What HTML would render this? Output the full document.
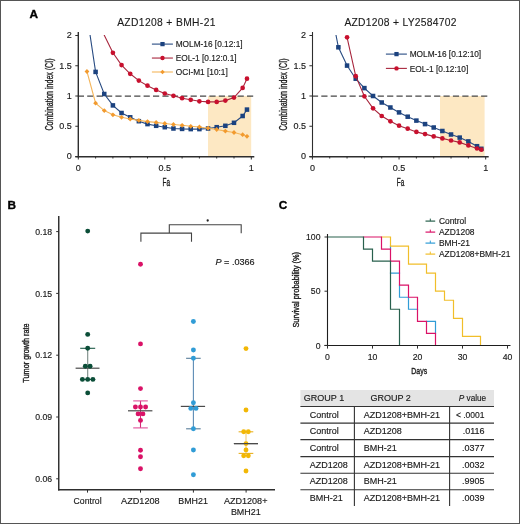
<!DOCTYPE html>
<html><head><meta charset="utf-8"><style>
html,body{margin:0;padding:0;background:#fff;}
body{width:520px;height:524px;overflow:hidden;}
svg{display:block;will-change:transform;}
text{font-family:"Liberation Sans", sans-serif;fill:#333333;}
.tk{font-size:9px;fill:#1a1a1a;stroke:#1a1a1a;stroke-width:0.15px}
.tk2{font-size:8.7px;fill:#1a1a1a;stroke:#1a1a1a;stroke-width:0.15px}
.cl{font-size:10px;fill:#1a1a1a;stroke:#1a1a1a;stroke-width:0.35px}
.ti{font-size:10.3px;fill:#1a1a1a;stroke:#1a1a1a;stroke-width:0.12px}
.lg{font-size:8.3px;fill:#1a1a1a;stroke:#1a1a1a;stroke-width:0.15px}
.lg2{font-size:8.45px;fill:#1a1a1a;stroke:#1a1a1a;stroke-width:0.15px}
.pv{font-size:8.6px;fill:#1a1a1a;stroke:#1a1a1a;stroke-width:0.15px}
.tb{font-size:9px;fill:#1a1a1a;stroke:#1a1a1a;stroke-width:0.15px}
.pl{font-size:11.8px;font-weight:bold;fill:#000;stroke:#000;stroke-width:0.35px}
</style></head><body>
<svg width="520" height="524" viewBox="0 0 520 524">
<rect x="0.5" y="0.5" width="519" height="523" fill="#fff" stroke="#555" stroke-width="1"/>
<text x="29.5" y="18.2" class="pl">A</text>
<text x="7.5" y="209.2" class="pl">B</text>
<text x="278.8" y="209.4" class="pl">C</text>
<rect x="208" y="96" width="43.2" height="60.5" fill="#fde8c3"/>
<line x1="77.8" y1="96" x2="253.8" y2="96" stroke="#474747" stroke-width="1.25" stroke-dasharray="6.2,3.2"/>
<clipPath id="c78"><rect x="78.3" y="35" width="200" height="130"/></clipPath>
<path d="M101.7,30 L112.9,52.8 L121.55,65.1 L130.2,73.8 L138.85,80.6 L147.5,85.7 L156.15,89.9 L164.8,93.5 L173.45,95.8 L182.1,98.2 L190.75,99.8 L199.4,101.3 L208.05,101.9 L216.7,101.9 L225.35,100.6 L234,97.6 L242.65,87.9 L246.98,78.7" fill="none" stroke="#a8263d" stroke-width="1.1" clip-path="url(#c78)"/>
<circle cx="112.9" cy="52.8" r="2.34" fill="#c8102e"/>
<circle cx="121.55" cy="65.1" r="2.34" fill="#c8102e"/>
<circle cx="130.2" cy="73.8" r="2.34" fill="#c8102e"/>
<circle cx="138.85" cy="80.6" r="2.34" fill="#c8102e"/>
<circle cx="147.5" cy="85.7" r="2.34" fill="#c8102e"/>
<circle cx="156.15" cy="89.9" r="2.34" fill="#c8102e"/>
<circle cx="164.8" cy="93.5" r="2.34" fill="#c8102e"/>
<circle cx="173.45" cy="95.8" r="2.34" fill="#c8102e"/>
<circle cx="182.1" cy="98.2" r="2.34" fill="#c8102e"/>
<circle cx="190.75" cy="99.8" r="2.34" fill="#c8102e"/>
<circle cx="199.4" cy="101.3" r="2.34" fill="#c8102e"/>
<circle cx="208.05" cy="101.9" r="2.34" fill="#c8102e"/>
<circle cx="216.7" cy="101.9" r="2.34" fill="#c8102e"/>
<circle cx="225.35" cy="100.6" r="2.34" fill="#c8102e"/>
<circle cx="234" cy="97.6" r="2.34" fill="#c8102e"/>
<circle cx="242.65" cy="87.9" r="2.34" fill="#c8102e"/>
<circle cx="246.98" cy="78.7" r="2.34" fill="#c8102e"/>
<path d="M89.3,30 L95.6,71.9 L104.25,94 L112.9,105.4 L121.55,113 L130.2,117.3 L138.85,121.2 L147.5,124.1 L156.15,125.8 L164.8,127.2 L173.45,128.5 L182.1,128.9 L190.75,129.1 L199.4,129.1 L208.05,128.5 L216.7,127.2 L225.35,125.8 L234,122.8 L242.65,116 L246.98,109.6" fill="none" stroke="#284b82" stroke-width="1.1" clip-path="url(#c78)"/>
<rect x="93.34" y="69.64" width="4.52" height="4.52" fill="#1b427f"/>
<rect x="101.99" y="91.74" width="4.52" height="4.52" fill="#1b427f"/>
<rect x="110.64" y="103.14" width="4.52" height="4.52" fill="#1b427f"/>
<rect x="119.29" y="110.74" width="4.52" height="4.52" fill="#1b427f"/>
<rect x="127.94" y="115.04" width="4.52" height="4.52" fill="#1b427f"/>
<rect x="136.59" y="118.94" width="4.52" height="4.52" fill="#1b427f"/>
<rect x="145.24" y="121.84" width="4.52" height="4.52" fill="#1b427f"/>
<rect x="153.89" y="123.54" width="4.52" height="4.52" fill="#1b427f"/>
<rect x="162.54" y="124.94" width="4.52" height="4.52" fill="#1b427f"/>
<rect x="171.19" y="126.24" width="4.52" height="4.52" fill="#1b427f"/>
<rect x="179.84" y="126.64" width="4.52" height="4.52" fill="#1b427f"/>
<rect x="188.49" y="126.84" width="4.52" height="4.52" fill="#1b427f"/>
<rect x="197.14" y="126.84" width="4.52" height="4.52" fill="#1b427f"/>
<rect x="205.79" y="126.24" width="4.52" height="4.52" fill="#1b427f"/>
<rect x="214.44" y="124.94" width="4.52" height="4.52" fill="#1b427f"/>
<rect x="223.09" y="123.54" width="4.52" height="4.52" fill="#1b427f"/>
<rect x="231.74" y="120.54" width="4.52" height="4.52" fill="#1b427f"/>
<rect x="240.39" y="113.74" width="4.52" height="4.52" fill="#1b427f"/>
<rect x="244.71" y="107.34" width="4.52" height="4.52" fill="#1b427f"/>
<path d="M86.95,71.5 L95.6,103.2 L104.25,110.6 L112.9,114.8 L121.55,117.3 L130.2,119 L138.85,120.4 L147.5,121.6 L156.15,122.4 L164.8,123.5 L173.45,124.5 L182.1,125.3 L190.75,126.3 L199.4,127 L208.05,128.2 L216.7,129.5 L225.35,131.1 L234,132.5 L242.65,134.7 L246.98,136.3" fill="none" stroke="#f4b65c" stroke-width="1.1" clip-path="url(#c78)"/>
<path d="M86.95,69.11 L89.34,71.5 L86.95,73.89 L84.56,71.5 Z" fill="#f29a2e"/>
<path d="M95.6,100.81 L97.99,103.2 L95.6,105.59 L93.21,103.2 Z" fill="#f29a2e"/>
<path d="M104.25,108.21 L106.64,110.6 L104.25,112.99 L101.86,110.6 Z" fill="#f29a2e"/>
<path d="M112.9,112.41 L115.29,114.8 L112.9,117.19 L110.51,114.8 Z" fill="#f29a2e"/>
<path d="M121.55,114.91 L123.94,117.3 L121.55,119.69 L119.16,117.3 Z" fill="#f29a2e"/>
<path d="M130.2,116.61 L132.59,119 L130.2,121.39 L127.81,119 Z" fill="#f29a2e"/>
<path d="M138.85,118.01 L141.24,120.4 L138.85,122.79 L136.46,120.4 Z" fill="#f29a2e"/>
<path d="M147.5,119.21 L149.89,121.6 L147.5,123.99 L145.11,121.6 Z" fill="#f29a2e"/>
<path d="M156.15,120.01 L158.54,122.4 L156.15,124.79 L153.76,122.4 Z" fill="#f29a2e"/>
<path d="M164.8,121.11 L167.19,123.5 L164.8,125.89 L162.41,123.5 Z" fill="#f29a2e"/>
<path d="M173.45,122.11 L175.84,124.5 L173.45,126.89 L171.06,124.5 Z" fill="#f29a2e"/>
<path d="M182.1,122.91 L184.49,125.3 L182.1,127.69 L179.71,125.3 Z" fill="#f29a2e"/>
<path d="M190.75,123.91 L193.14,126.3 L190.75,128.69 L188.36,126.3 Z" fill="#f29a2e"/>
<path d="M199.4,124.61 L201.79,127 L199.4,129.39 L197.01,127 Z" fill="#f29a2e"/>
<path d="M208.05,125.81 L210.44,128.2 L208.05,130.59 L205.66,128.2 Z" fill="#f29a2e"/>
<path d="M216.7,127.11 L219.09,129.5 L216.7,131.89 L214.31,129.5 Z" fill="#f29a2e"/>
<path d="M225.35,128.71 L227.74,131.1 L225.35,133.49 L222.96,131.1 Z" fill="#f29a2e"/>
<path d="M234,130.11 L236.39,132.5 L234,134.89 L231.61,132.5 Z" fill="#f29a2e"/>
<path d="M242.65,132.31 L245.04,134.7 L242.65,137.09 L240.26,134.7 Z" fill="#f29a2e"/>
<path d="M246.98,133.91 L249.37,136.3 L246.98,138.69 L244.58,136.3 Z" fill="#f29a2e"/>
<line x1="78.3" y1="32" x2="78.3" y2="157.4" stroke="#2e2e2e" stroke-width="1.4"/>
<line x1="75.3" y1="156.7" x2="254.3" y2="156.7" stroke="#2e2e2e" stroke-width="1.4"/>
<line x1="75.3" y1="35.5" x2="78.3" y2="35.5" stroke="#2e2e2e" stroke-width="1"/>
<text x="71.8" y="38.3" text-anchor="end" class="tk">2</text>
<line x1="75.3" y1="65.75" x2="78.3" y2="65.75" stroke="#2e2e2e" stroke-width="1"/>
<text x="71.8" y="68.55" text-anchor="end" class="tk">1.5</text>
<line x1="75.3" y1="96" x2="78.3" y2="96" stroke="#2e2e2e" stroke-width="1"/>
<text x="71.8" y="98.8" text-anchor="end" class="tk">1</text>
<line x1="75.3" y1="126.25" x2="78.3" y2="126.25" stroke="#2e2e2e" stroke-width="1"/>
<text x="71.8" y="129.05" text-anchor="end" class="tk">0.5</text>
<line x1="75.3" y1="156.5" x2="78.3" y2="156.5" stroke="#2e2e2e" stroke-width="1"/>
<text x="71.8" y="159.3" text-anchor="end" class="tk">0</text>
<line x1="78.3" y1="156.5" x2="78.3" y2="159.5" stroke="#2e2e2e" stroke-width="1"/>
<line x1="95.6" y1="156.5" x2="95.6" y2="158.5" stroke="#2e2e2e" stroke-width="1"/>
<line x1="112.9" y1="156.5" x2="112.9" y2="158.5" stroke="#2e2e2e" stroke-width="1"/>
<line x1="130.2" y1="156.5" x2="130.2" y2="158.5" stroke="#2e2e2e" stroke-width="1"/>
<line x1="147.5" y1="156.5" x2="147.5" y2="158.5" stroke="#2e2e2e" stroke-width="1"/>
<line x1="164.8" y1="156.5" x2="164.8" y2="159.5" stroke="#2e2e2e" stroke-width="1"/>
<line x1="182.1" y1="156.5" x2="182.1" y2="158.5" stroke="#2e2e2e" stroke-width="1"/>
<line x1="199.4" y1="156.5" x2="199.4" y2="158.5" stroke="#2e2e2e" stroke-width="1"/>
<line x1="216.7" y1="156.5" x2="216.7" y2="158.5" stroke="#2e2e2e" stroke-width="1"/>
<line x1="234" y1="156.5" x2="234" y2="158.5" stroke="#2e2e2e" stroke-width="1"/>
<line x1="251.3" y1="156.5" x2="251.3" y2="159.5" stroke="#2e2e2e" stroke-width="1"/>
<text x="78.3" y="171" text-anchor="middle" class="tk">0</text>
<text x="164.8" y="171" text-anchor="middle" class="tk">0.5</text>
<text x="251.3" y="171" text-anchor="middle" class="tk">1</text>
<text x="166.3" y="185.5" text-anchor="middle" class="cl" textLength="7.5" lengthAdjust="spacingAndGlyphs">Fa</text>
<text transform="translate(53.3,94.5) rotate(-90)" text-anchor="middle" class="cl" textLength="72" lengthAdjust="spacingAndGlyphs">Combination index (CI)</text>
<text x="166.3" y="26" text-anchor="middle" class="ti" textLength="98.3" lengthAdjust="spacing">AZD1208 + BMH-21</text>
<line x1="151.9" y1="44.1" x2="172.9" y2="44.1" stroke="#284b82" stroke-width="1.1"/>
<rect x="160.37" y="41.97" width="4.26" height="4.26" fill="#1b427f"/>
<text x="175.7" y="47.3" class="lg">MOLM-16 [0.12:1]</text>
<line x1="151.9" y1="58.05" x2="172.9" y2="58.05" stroke="#a8263d" stroke-width="1.1"/>
<circle cx="162.5" cy="58.05" r="2.21" fill="#c8102e"/>
<text x="175.7" y="61.25" class="lg">EOL-1 [0.12:0.1]</text>
<line x1="151.9" y1="72" x2="172.9" y2="72" stroke="#f4b65c" stroke-width="1.1"/>
<path d="M162.5,69.75 L164.75,72 L162.5,74.25 L160.25,72 Z" fill="#f29a2e"/>
<text x="175.7" y="75.2" class="lg">OCI-M1 [10:1]</text>
<rect x="440" y="96" width="44.6" height="60.5" fill="#fde8c3"/>
<line x1="311.9" y1="96" x2="488.2" y2="96" stroke="#474747" stroke-width="1.25" stroke-dasharray="6.2,3.2"/>
<clipPath id="c312"><rect x="312.4" y="35" width="200" height="130"/></clipPath>
<path d="M335,30 L338.39,47.3 L347.06,65.6 L355.72,78.7 L364.39,88.1 L373.05,96 L381.72,102.5 L390.38,107.5 L399.05,112.4 L407.71,116.7 L416.38,120.6 L425.04,124.1 L433.71,127.5 L442.38,131 L451.04,134.5 L459.7,137.6 L468.37,141.4 L477.03,146.2 L481.37,148.8" fill="none" stroke="#284b82" stroke-width="1.1" clip-path="url(#c312)"/>
<rect x="336.13" y="45.04" width="4.52" height="4.52" fill="#1b427f"/>
<rect x="344.8" y="63.34" width="4.52" height="4.52" fill="#1b427f"/>
<rect x="353.46" y="76.44" width="4.52" height="4.52" fill="#1b427f"/>
<rect x="362.13" y="85.84" width="4.52" height="4.52" fill="#1b427f"/>
<rect x="370.79" y="93.74" width="4.52" height="4.52" fill="#1b427f"/>
<rect x="379.46" y="100.24" width="4.52" height="4.52" fill="#1b427f"/>
<rect x="388.12" y="105.24" width="4.52" height="4.52" fill="#1b427f"/>
<rect x="396.79" y="110.14" width="4.52" height="4.52" fill="#1b427f"/>
<rect x="405.45" y="114.44" width="4.52" height="4.52" fill="#1b427f"/>
<rect x="414.12" y="118.34" width="4.52" height="4.52" fill="#1b427f"/>
<rect x="422.78" y="121.84" width="4.52" height="4.52" fill="#1b427f"/>
<rect x="431.45" y="125.24" width="4.52" height="4.52" fill="#1b427f"/>
<rect x="440.11" y="128.74" width="4.52" height="4.52" fill="#1b427f"/>
<rect x="448.78" y="132.24" width="4.52" height="4.52" fill="#1b427f"/>
<rect x="457.44" y="135.34" width="4.52" height="4.52" fill="#1b427f"/>
<rect x="466.11" y="139.14" width="4.52" height="4.52" fill="#1b427f"/>
<rect x="474.77" y="143.94" width="4.52" height="4.52" fill="#1b427f"/>
<rect x="479.11" y="146.54" width="4.52" height="4.52" fill="#1b427f"/>
<path d="M347.06,37.3 L355.72,76.2 L364.39,96.3 L373.05,108.3 L381.72,116 L390.38,121.3 L399.05,125.7 L407.71,128.7 L416.38,131.9 L425.04,134.1 L433.71,136.4 L442.38,138.4 L451.04,140.5 L459.7,142.4 L468.37,145.4 L477.03,148.5 L481.37,149.7" fill="none" stroke="#a8263d" stroke-width="1.1" clip-path="url(#c312)"/>
<circle cx="347.06" cy="37.3" r="2.34" fill="#c8102e"/>
<circle cx="355.72" cy="76.2" r="2.34" fill="#c8102e"/>
<circle cx="364.39" cy="96.3" r="2.34" fill="#c8102e"/>
<circle cx="373.05" cy="108.3" r="2.34" fill="#c8102e"/>
<circle cx="381.72" cy="116" r="2.34" fill="#c8102e"/>
<circle cx="390.38" cy="121.3" r="2.34" fill="#c8102e"/>
<circle cx="399.05" cy="125.7" r="2.34" fill="#c8102e"/>
<circle cx="407.71" cy="128.7" r="2.34" fill="#c8102e"/>
<circle cx="416.38" cy="131.9" r="2.34" fill="#c8102e"/>
<circle cx="425.04" cy="134.1" r="2.34" fill="#c8102e"/>
<circle cx="433.71" cy="136.4" r="2.34" fill="#c8102e"/>
<circle cx="442.38" cy="138.4" r="2.34" fill="#c8102e"/>
<circle cx="451.04" cy="140.5" r="2.34" fill="#c8102e"/>
<circle cx="459.7" cy="142.4" r="2.34" fill="#c8102e"/>
<circle cx="468.37" cy="145.4" r="2.34" fill="#c8102e"/>
<circle cx="477.03" cy="148.5" r="2.34" fill="#c8102e"/>
<circle cx="481.37" cy="149.7" r="2.34" fill="#c8102e"/>
<line x1="312.5" y1="32" x2="312.5" y2="157.4" stroke="#2e2e2e" stroke-width="1.1"/>
<line x1="309.4" y1="156.7" x2="488.7" y2="156.7" stroke="#2e2e2e" stroke-width="1.4"/>
<line x1="309.4" y1="35.5" x2="312.4" y2="35.5" stroke="#2e2e2e" stroke-width="1"/>
<text x="305.9" y="38.3" text-anchor="end" class="tk">2</text>
<line x1="309.4" y1="65.75" x2="312.4" y2="65.75" stroke="#2e2e2e" stroke-width="1"/>
<text x="305.9" y="68.55" text-anchor="end" class="tk">1.5</text>
<line x1="309.4" y1="96" x2="312.4" y2="96" stroke="#2e2e2e" stroke-width="1"/>
<text x="305.9" y="98.8" text-anchor="end" class="tk">1</text>
<line x1="309.4" y1="126.25" x2="312.4" y2="126.25" stroke="#2e2e2e" stroke-width="1"/>
<text x="305.9" y="129.05" text-anchor="end" class="tk">0.5</text>
<line x1="309.4" y1="156.5" x2="312.4" y2="156.5" stroke="#2e2e2e" stroke-width="1"/>
<text x="305.9" y="159.3" text-anchor="end" class="tk">0</text>
<line x1="312.4" y1="156.5" x2="312.4" y2="159.5" stroke="#2e2e2e" stroke-width="1"/>
<line x1="329.73" y1="156.5" x2="329.73" y2="158.5" stroke="#2e2e2e" stroke-width="1"/>
<line x1="347.06" y1="156.5" x2="347.06" y2="158.5" stroke="#2e2e2e" stroke-width="1"/>
<line x1="364.39" y1="156.5" x2="364.39" y2="158.5" stroke="#2e2e2e" stroke-width="1"/>
<line x1="381.72" y1="156.5" x2="381.72" y2="158.5" stroke="#2e2e2e" stroke-width="1"/>
<line x1="399.05" y1="156.5" x2="399.05" y2="159.5" stroke="#2e2e2e" stroke-width="1"/>
<line x1="416.38" y1="156.5" x2="416.38" y2="158.5" stroke="#2e2e2e" stroke-width="1"/>
<line x1="433.71" y1="156.5" x2="433.71" y2="158.5" stroke="#2e2e2e" stroke-width="1"/>
<line x1="451.04" y1="156.5" x2="451.04" y2="158.5" stroke="#2e2e2e" stroke-width="1"/>
<line x1="468.37" y1="156.5" x2="468.37" y2="158.5" stroke="#2e2e2e" stroke-width="1"/>
<line x1="485.7" y1="156.5" x2="485.7" y2="159.5" stroke="#2e2e2e" stroke-width="1"/>
<text x="312.4" y="171" text-anchor="middle" class="tk">0</text>
<text x="399.05" y="171" text-anchor="middle" class="tk">0.5</text>
<text x="485.7" y="171" text-anchor="middle" class="tk">1</text>
<text x="400.55" y="185.5" text-anchor="middle" class="cl" textLength="7.5" lengthAdjust="spacingAndGlyphs">Fa</text>
<text transform="translate(287,94.5) rotate(-90)" text-anchor="middle" class="cl" textLength="72" lengthAdjust="spacingAndGlyphs">Combination index (CI)</text>
<text x="400.5" y="26" text-anchor="middle" class="ti" textLength="112.2" lengthAdjust="spacing">AZD1208 + LY2584702</text>
<line x1="385.9" y1="54.1" x2="406.9" y2="54.1" stroke="#284b82" stroke-width="1.1"/>
<rect x="394.37" y="51.97" width="4.26" height="4.26" fill="#1b427f"/>
<text x="409.7" y="57.3" class="lg">MOLM-16 [0.12:10]</text>
<line x1="385.9" y1="68.4" x2="406.9" y2="68.4" stroke="#a8263d" stroke-width="1.1"/>
<circle cx="396.5" cy="68.4" r="2.21" fill="#c8102e"/>
<text x="409.7" y="71.6" class="lg">EOL-1 [0.12:10]</text>
<path d="M140.9,241.8 V233.1 H191.5 V241.8" fill="none" stroke="#444" stroke-width="1.1"/>
<path d="M169.3,233.1 V224.7 H241.2 V233.3" fill="none" stroke="#444" stroke-width="1.1"/>
<circle cx="207.7" cy="220.5" r="1.15" fill="#222"/>
<text x="215.5" y="264.6" class="pv" textLength="39.2" lengthAdjust="spacingAndGlyphs"><tspan font-style="italic">P</tspan> = .0366</text>
<line x1="87.7" y1="348.3" x2="87.7" y2="379.4" stroke="#7a8a85" stroke-width="1.1"/>
<line x1="80.2" y1="348.3" x2="95.2" y2="348.3" stroke="#1d5a47" stroke-width="1.1"/>
<line x1="80.2" y1="379.4" x2="95.2" y2="379.4" stroke="#1d5a47" stroke-width="1.1"/>
<line x1="75.6" y1="368.2" x2="99.5" y2="368.2" stroke="#4a4a4a" stroke-width="1.2"/>
<circle cx="87.7" cy="231.1" r="2.45" fill="#0b4e38"/>
<circle cx="87.7" cy="334.4" r="2.45" fill="#0b4e38"/>
<circle cx="87.7" cy="348.3" r="2.45" fill="#0b4e38"/>
<circle cx="85.3" cy="366.3" r="2.45" fill="#0b4e38"/>
<circle cx="90.1" cy="366.3" r="2.45" fill="#0b4e38"/>
<circle cx="82.4" cy="379.4" r="2.45" fill="#0b4e38"/>
<circle cx="87.7" cy="379.4" r="2.45" fill="#0b4e38"/>
<circle cx="92.9" cy="379.4" r="2.45" fill="#0b4e38"/>
<circle cx="87.7" cy="392.9" r="2.45" fill="#0b4e38"/>
<line x1="140.5" y1="400.9" x2="140.5" y2="427.9" stroke="#d42a78" stroke-width="1.1"/>
<line x1="133.2" y1="400.9" x2="147.8" y2="400.9" stroke="#e0509a" stroke-width="1.1"/>
<line x1="133.2" y1="427.9" x2="147.8" y2="427.9" stroke="#e0509a" stroke-width="1.1"/>
<line x1="128" y1="410.8" x2="152.4" y2="410.8" stroke="#4a4a4a" stroke-width="1.2"/>
<circle cx="140.5" cy="264.2" r="2.45" fill="#da1267"/>
<circle cx="140.5" cy="343.9" r="2.45" fill="#da1267"/>
<circle cx="140.5" cy="388.6" r="2.45" fill="#da1267"/>
<circle cx="135.4" cy="407" r="2.45" fill="#da1267"/>
<circle cx="140.5" cy="407" r="2.45" fill="#da1267"/>
<circle cx="145.6" cy="407" r="2.45" fill="#da1267"/>
<circle cx="138.1" cy="413.9" r="2.45" fill="#da1267"/>
<circle cx="142.9" cy="413.9" r="2.45" fill="#da1267"/>
<circle cx="140.5" cy="420.4" r="2.45" fill="#da1267"/>
<circle cx="140.5" cy="450.2" r="2.45" fill="#da1267"/>
<circle cx="140.5" cy="456.7" r="2.45" fill="#da1267"/>
<circle cx="140.5" cy="468.7" r="2.45" fill="#da1267"/>
<line x1="193.4" y1="358.3" x2="193.4" y2="428.8" stroke="#5c8cb5" stroke-width="1.1"/>
<line x1="186.1" y1="358.3" x2="200.7" y2="358.3" stroke="#587d99" stroke-width="1.1"/>
<line x1="186.1" y1="428.8" x2="200.7" y2="428.8" stroke="#587d99" stroke-width="1.1"/>
<line x1="180.8" y1="406.4" x2="205.1" y2="406.4" stroke="#4a4a4a" stroke-width="1.2"/>
<circle cx="193.4" cy="321.5" r="2.45" fill="#309cd6"/>
<circle cx="193.4" cy="350" r="2.45" fill="#309cd6"/>
<circle cx="193.4" cy="358.3" r="2.45" fill="#309cd6"/>
<circle cx="193.4" cy="402.7" r="2.45" fill="#309cd6"/>
<circle cx="190.8" cy="408.4" r="2.45" fill="#309cd6"/>
<circle cx="196" cy="408.4" r="2.45" fill="#309cd6"/>
<circle cx="193.4" cy="428.8" r="2.45" fill="#309cd6"/>
<circle cx="193.4" cy="450" r="2.45" fill="#309cd6"/>
<circle cx="193.4" cy="474.7" r="2.45" fill="#309cd6"/>
<line x1="246" y1="431.8" x2="246" y2="453.4" stroke="#f0cc78" stroke-width="1.1"/>
<line x1="238.6" y1="431.8" x2="253.3" y2="431.8" stroke="#e8b020" stroke-width="1.1"/>
<line x1="238.6" y1="453.4" x2="253.3" y2="453.4" stroke="#e8b020" stroke-width="1.1"/>
<line x1="233.9" y1="443.6" x2="258" y2="443.6" stroke="#4a4a4a" stroke-width="1.2"/>
<circle cx="246" cy="348.6" r="2.45" fill="#f2b705"/>
<circle cx="246" cy="410" r="2.45" fill="#f2b705"/>
<circle cx="243.7" cy="431.8" r="2.45" fill="#f2b705"/>
<circle cx="248.3" cy="431.8" r="2.45" fill="#f2b705"/>
<circle cx="246" cy="443.6" r="2.45" fill="#f2b705"/>
<circle cx="246" cy="449.9" r="2.45" fill="#f2b705"/>
<circle cx="243.7" cy="455.7" r="2.45" fill="#f2b705"/>
<circle cx="248.3" cy="455.7" r="2.45" fill="#f2b705"/>
<circle cx="246" cy="471" r="2.45" fill="#f2b705"/>
<line x1="233.9" y1="443.6" x2="258" y2="443.6" stroke="#4a4a4a" stroke-width="1.2"/>
<line x1="58.75" y1="216" x2="58.75" y2="490.4" stroke="#2e2e2e" stroke-width="1.45"/>
<line x1="58.1" y1="489.7" x2="275" y2="489.7" stroke="#2e2e2e" stroke-width="1.4"/>
<line x1="56.2" y1="231.6" x2="59" y2="231.6" stroke="#2e2e2e" stroke-width="1"/>
<text x="52.2" y="234.8" text-anchor="end" class="tk2">0.18</text>
<line x1="56.2" y1="293.4" x2="59" y2="293.4" stroke="#2e2e2e" stroke-width="1"/>
<text x="52.2" y="296.6" text-anchor="end" class="tk2">0.15</text>
<line x1="56.2" y1="355.2" x2="59" y2="355.2" stroke="#2e2e2e" stroke-width="1"/>
<text x="52.2" y="358.4" text-anchor="end" class="tk2">0.12</text>
<line x1="56.2" y1="417" x2="59" y2="417" stroke="#2e2e2e" stroke-width="1"/>
<text x="52.2" y="420.2" text-anchor="end" class="tk2">0.09</text>
<line x1="56.2" y1="478.8" x2="59" y2="478.8" stroke="#2e2e2e" stroke-width="1"/>
<text x="52.2" y="482" text-anchor="end" class="tk2">0.06</text>
<line x1="87.5" y1="489.6" x2="87.5" y2="492.6" stroke="#2e2e2e" stroke-width="1"/>
<line x1="140.5" y1="489.6" x2="140.5" y2="492.6" stroke="#2e2e2e" stroke-width="1"/>
<line x1="193.4" y1="489.6" x2="193.4" y2="492.6" stroke="#2e2e2e" stroke-width="1"/>
<line x1="246.1" y1="489.6" x2="246.1" y2="492.6" stroke="#2e2e2e" stroke-width="1"/>
<text x="87.6" y="504" text-anchor="middle" class="tk2" textLength="28" lengthAdjust="spacingAndGlyphs">Control</text>
<text x="140.4" y="504" text-anchor="middle" class="tk2" textLength="38.6" lengthAdjust="spacingAndGlyphs">AZD1208</text>
<text x="193.1" y="504" text-anchor="middle" class="tk2" textLength="29.5" lengthAdjust="spacingAndGlyphs">BMH21</text>
<text x="245.7" y="504" text-anchor="middle" class="tk2" textLength="43.5" lengthAdjust="spacingAndGlyphs">AZD1208+</text>
<text x="245.8" y="514.5" text-anchor="middle" class="tk2" textLength="29.8" lengthAdjust="spacingAndGlyphs">BMH21</text>
<text transform="translate(28.5,353) rotate(-90)" text-anchor="middle" class="cl" style="font-size:8.6px" textLength="59.3" lengthAdjust="spacingAndGlyphs">Tumor growth rate</text>
<path d="M390.5,246.03 V249.04 M390.5,273.13 H399.5 M399.5,285.17 V297.23 M399.5,297.23 H408.5 M408.5,297.23 V309.27 M408.5,309.27 H417.5 M426.5,321.31 H435.5 M435.5,321.31 V333.36" fill="none" stroke="#309cd6" stroke-width="1.2" stroke-linecap="square"/>
<path d="M381.5,237 H390.5 M390.5,237 V246.03 M390.5,246.03 H408.5 M408.5,246.03 V264.1 M408.5,264.1 H426.5 M426.5,264.1 V273.13 M426.5,273.13 H435.5 M435.5,273.13 V291.2 M435.5,291.2 H444.5 M444.5,291.2 V300.23 M444.5,300.23 H453.5 M453.5,300.23 V318.3 M453.5,318.3 H462.5 M462.5,318.3 V336.37 M462.5,336.37 H480.5 M480.5,336.37 V345.4" fill="none" stroke="#f1be2a" stroke-width="1.2" stroke-linecap="square"/>
<path d="M363.5,237 H381.5 M381.5,237 V249.04 M381.5,249.04 H390.5 M390.5,249.04 V261.09 M390.5,261.09 H399.5 M399.5,261.09 V285.17 M399.5,285.17 H408.5 M408.5,285.17 V297.23 M408.5,297.23 H417.5 M417.5,297.23 V321.31 M417.5,321.31 H426.5 M426.5,321.31 V333.36 M426.5,333.36 H435.5 M435.5,333.36 V345.4" fill="none" stroke="#da1267" stroke-width="1.2" stroke-linecap="square"/>
<path d="M327.5,237 H363.5 M363.5,237 V249.04 M363.5,249.04 H372.5 M372.5,249.04 V261.09 M372.5,261.09 H390.5 M390.5,261.09 V309.27 M390.5,309.27 H399.5 M399.5,309.27 V345.4" fill="none" stroke="#28604d" stroke-width="1.2" stroke-linecap="square"/>
<line x1="327.5" y1="234" x2="327.5" y2="346" stroke="#1e1e1e" stroke-width="1.1"/>
<line x1="324.5" y1="345.5" x2="510.5" y2="345.5" stroke="#1e1e1e" stroke-width="1.1"/>
<line x1="324.5" y1="237" x2="327.4" y2="237" stroke="#2e2e2e" stroke-width="1"/>
<text x="320.5" y="240.2" text-anchor="end" class="tk2">100</text>
<line x1="324.5" y1="291.2" x2="327.4" y2="291.2" stroke="#2e2e2e" stroke-width="1"/>
<text x="320.5" y="294.4" text-anchor="end" class="tk2">50</text>
<line x1="324.5" y1="345.4" x2="327.4" y2="345.4" stroke="#2e2e2e" stroke-width="1"/>
<text x="320.5" y="348.6" text-anchor="end" class="tk2">0</text>
<line x1="327.5" y1="345.4" x2="327.5" y2="348.6" stroke="#2e2e2e" stroke-width="1"/>
<text x="327.5" y="360.3" text-anchor="middle" class="tk2">0</text>
<line x1="372.5" y1="345.4" x2="372.5" y2="348.6" stroke="#2e2e2e" stroke-width="1"/>
<text x="372.5" y="360.3" text-anchor="middle" class="tk2">10</text>
<line x1="417.5" y1="345.4" x2="417.5" y2="348.6" stroke="#2e2e2e" stroke-width="1"/>
<text x="417.5" y="360.3" text-anchor="middle" class="tk2">20</text>
<line x1="462.5" y1="345.4" x2="462.5" y2="348.6" stroke="#2e2e2e" stroke-width="1"/>
<text x="462.5" y="360.3" text-anchor="middle" class="tk2">30</text>
<line x1="507.5" y1="345.4" x2="507.5" y2="348.6" stroke="#2e2e2e" stroke-width="1"/>
<text x="507.5" y="360.3" text-anchor="middle" class="tk2">40</text>
<text x="419.2" y="374.3" text-anchor="middle" class="cl" style="font-size:9.6px" textLength="15.8" lengthAdjust="spacingAndGlyphs">Days</text>
<text transform="translate(298.6,289.8) rotate(-90)" text-anchor="middle" class="cl" style="font-size:9px" textLength="75.5" lengthAdjust="spacingAndGlyphs">Survival probability (%)</text>
<line x1="425.5" y1="221.1" x2="435.2" y2="221.1" stroke="#28604d" stroke-width="1.2"/>
<line x1="430.3" y1="218.6" x2="430.3" y2="221.1" stroke="#28604d" stroke-width="1"/>
<text x="438.9" y="224.2" class="lg2">Control</text>
<line x1="425.5" y1="232.1" x2="435.2" y2="232.1" stroke="#da1267" stroke-width="1.2"/>
<line x1="430.3" y1="229.6" x2="430.3" y2="232.1" stroke="#da1267" stroke-width="1"/>
<text x="438.9" y="235.2" class="lg2">AZD1208</text>
<line x1="425.5" y1="243.1" x2="435.2" y2="243.1" stroke="#309cd6" stroke-width="1.2"/>
<line x1="430.3" y1="240.6" x2="430.3" y2="243.1" stroke="#309cd6" stroke-width="1"/>
<text x="438.9" y="246.2" class="lg2">BMH-21</text>
<line x1="425.5" y1="254.1" x2="435.2" y2="254.1" stroke="#f1be2a" stroke-width="1.2"/>
<line x1="430.3" y1="251.6" x2="430.3" y2="254.1" stroke="#f1be2a" stroke-width="1"/>
<text x="438.9" y="257.2" class="lg2">AZD1208+BMH-21</text>
<rect x="300.4" y="390" width="193.6" height="16.5" fill="#e4e4e4"/>
<text x="303.8" y="400.6" class="tb">GROUP 1</text>
<text x="370.4" y="400.6" class="tb">GROUP 2</text>
<text x="486.2" y="400.6" text-anchor="end" class="tb" textLength="27.4" lengthAdjust="spacingAndGlyphs"><tspan font-style="italic">P</tspan> value</text>
<line x1="300.4" y1="406.5" x2="494" y2="406.5" stroke="#333" stroke-width="1.1"/>
<text x="309.7" y="417.7" class="tb">Control</text>
<text x="363.8" y="417.7" class="tb">AZD1208+BMH-21</text>
<text x="484.5" y="417.7" text-anchor="end" class="tb" textLength="28.6" lengthAdjust="spacingAndGlyphs">&lt; .0001</text>
<line x1="300.4" y1="423.1" x2="494" y2="423.1" stroke="#333" stroke-width="1.1"/>
<text x="309.7" y="434.25" class="tb">Control</text>
<text x="363.8" y="434.25" class="tb">AZD1208</text>
<text x="484.5" y="434.25" text-anchor="end" class="tb">.0116</text>
<line x1="300.4" y1="439.6" x2="494" y2="439.6" stroke="#333" stroke-width="1.1"/>
<text x="309.7" y="451" class="tb">Control</text>
<text x="363.8" y="451" class="tb">BMH-21</text>
<text x="484.5" y="451" text-anchor="end" class="tb">.0377</text>
<line x1="300.4" y1="456.6" x2="494" y2="456.6" stroke="#333" stroke-width="1.1"/>
<text x="309.7" y="467.8" class="tb">AZD1208</text>
<text x="363.8" y="467.8" class="tb">AZD1208+BMH-21</text>
<text x="484.5" y="467.8" text-anchor="end" class="tb">.0032</text>
<line x1="300.4" y1="473.2" x2="494" y2="473.2" stroke="#333" stroke-width="1.1"/>
<text x="309.7" y="484.35" class="tb">AZD1208</text>
<text x="363.8" y="484.35" class="tb">BMH-21</text>
<text x="484.5" y="484.35" text-anchor="end" class="tb">.9905</text>
<line x1="300.4" y1="489.7" x2="494" y2="489.7" stroke="#333" stroke-width="1.1"/>
<text x="309.7" y="500.85" class="tb">BMH-21</text>
<text x="363.8" y="500.85" class="tb">AZD1208+BMH-21</text>
<text x="484.5" y="500.85" text-anchor="end" class="tb">.0039</text>
<line x1="354.4" y1="406.5" x2="354.4" y2="506" stroke="#333" stroke-width="1.1"/>
<line x1="449.6" y1="406.5" x2="449.6" y2="506" stroke="#333" stroke-width="1.1"/>
</svg>
</body></html>
